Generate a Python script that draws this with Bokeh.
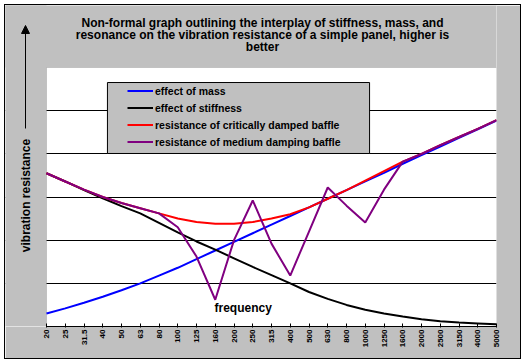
from math import pi
from bokeh.plotting import figure
from bokeh.models import (Range1d, FixedTicker, Legend, LegendItem, Label,
                          BoxAnnotation, Arrow, NormalHead)
from bokeh.embed import file_html
from bokeh.resources import INLINE

# ---- data ----
freq_labels = ["20", "25", "31.5", "40", "50", "63", "80", "100", "125", "160",
               "200", "250", "315", "400", "500", "630", "800", "1000", "1250",
               "1600", "2000", "2500", "3150", "4000", "5000"]
mass = [0.30, 0.42, 0.55, 0.69, 0.84, 1.00, 1.18, 1.36, 1.56, 1.76, 1.96, 2.16,
        2.36, 2.56, 2.76, 2.96, 3.16, 3.36, 3.56, 3.77, 3.97, 4.17, 4.37, 4.57, 4.77]
stiffness = [3.55, 3.36, 3.16, 2.97, 2.79, 2.62, 2.40, 2.18, 1.97, 1.78, 1.58, 1.38,
             1.19, 1.00, 0.80, 0.64, 0.50, 0.39, 0.30, 0.23, 0.17, 0.12, 0.09, 0.07, 0.05]
critically_damped = [3.55, 3.36, 3.17, 3.00, 2.86, 2.74, 2.62, 2.50, 2.42, 2.38, 2.38,
                     2.42, 2.50, 2.60, 2.76, 2.96, 3.16, 3.38, 3.60, 3.82, 4.00, 4.20,
                     4.39, 4.58, 4.78]
medium_damping = [3.55, 3.36, 3.17, 3.00, 2.86, 2.74, 2.62, 2.30, 1.62, 0.62, 2.00,
                  2.92, 1.92, 1.18, 2.20, 3.22, 2.80, 2.41, 3.17, 3.82, 4.00, 4.20,
                  4.39, 4.58, 4.78]
series_names = ["effect of mass", "effect of stiffness",
                "resistance of critically damped baffle",
                "resistance of medium damping baffle"]
series_colors = ["#0000ff", "#000000", "#ff0000", "#800080"]
title_lines = ["Non-formal graph outlining the interplay of stiffness, mass, and",
               "resonance on the vibration resistance of a simple panel, higher is",
               "better"]
grid_values = [1, 2, 3, 4, 5]

idx = list(range(len(freq_labels)))
n_last = len(freq_labels) - 1
Y_TOP = 6
FONT = "Liberation Sans"
GRAY = "#c0c0c0"

# plot-area scale: 18.75 px per category, 259/6 px per value unit;
# the frame is extended left/up so captions and arrow live inside it
PX_X = 18.75
PX_Y = 259 / 6
x_lo = -41 / PX_X
y_hi = 321 / PX_Y

p = figure(frame_width=491, frame_height=321, output_backend="svg",
           toolbar_location=None, x_range=Range1d(x_lo, n_last),
           y_range=Range1d(0, y_hi), y_axis_location=None, title=None,
           min_border_left=0, min_border_right=24, min_border_top=0,
           min_border_bottom=32)
p.styles = {"margin-left": "5px", "margin-top": "5px",
            "outline": "1px solid black"}
p.border_fill_color = GRAY
p.background_fill_color = "white"
p.outline_line_color = None

p.xgrid.visible = False
p.ygrid.ticker = FixedTicker(ticks=grid_values)
p.ygrid.grid_line_color = "black"
p.ygrid.grid_line_width = 1

# gray margins inside the extended frame (drawn over the grid ends)
p.add_layout(BoxAnnotation(left=x_lo - 1, right=0, bottom=0, top=y_hi + 1,
                           fill_color=GRAY, fill_alpha=1.0, line_color=None,
                           level="underlay"))
p.add_layout(BoxAnnotation(left=x_lo - 1, right=n_last + 3, bottom=Y_TOP,
                           top=y_hi + 1, fill_color=GRAY, fill_alpha=1.0,
                           line_color=None, level="underlay"))
# plot-area border
p.add_layout(BoxAnnotation(left=0, right=n_last, bottom=0, top=Y_TOP,
                           fill_alpha=0.0, line_color="#808080", line_width=1,
                           level="underlay"))

ax = p.xaxis[0]
ax.bounds = (0, n_last)
ax.ticker = FixedTicker(ticks=idx)
ax.major_label_overrides = {i: s for i, s in enumerate(freq_labels)}
ax.major_label_orientation = pi / 2
ax.major_label_text_font = FONT
ax.major_label_text_font_style = "bold"
ax.major_label_text_font_size = "8px"
ax.major_label_text_color = "black"
ax.major_label_standoff = 2
ax.major_tick_in = 3
ax.major_tick_out = 1
ax.minor_tick_line_color = None
ax.axis_line_color = "black"
ax.major_tick_line_color = "black"

series = [mass, stiffness, critically_damped, medium_damping]
renderers = []
for vals, col in zip(series, series_colors):
    r = p.line(idx, vals, line_color=col, line_width=2)
    renderers.append(r)

# legend box (background + border)
p.add_layout(BoxAnnotation(left=3.25, right=17.23, top=5.652, bottom=4.008,
                           fill_color=GRAY, fill_alpha=1.0,
                           line_color="black", line_width=1, line_alpha=1.0))

legend = Legend(items=[LegendItem(label=n, renderers=[r])
                       for n, r in zip(series_names, renderers)],
                location=(122, 176), padding=0, margin=0, spacing=0,
                glyph_width=26, glyph_height=17, label_height=17,
                label_standoff=2, border_line_color=None,
                background_fill_alpha=0.0,
                label_text_font=FONT, label_text_font_style="bold",
                label_text_font_size="10.5px", label_text_color="black")
p.add_layout(legend, "center")

# title lines
for t, yy in zip(title_lines, [7.026, 6.748, 6.486]):
    p.add_layout(Label(x=11.52, y=yy, text=t, text_align="center",
                       text_baseline="middle", text_font=FONT,
                       text_font_style="bold", text_font_size="12px",
                       text_color="black"))

# vertical caption with arrow
p.add_layout(Label(x=-1.12, y=3.035, text="vibration resistance", angle=pi / 2,
                   text_align="center", text_baseline="middle",
                   text_font=FONT, text_font_style="bold",
                   text_font_size="12px", text_color="black"))
p.add_layout(Arrow(end=NormalHead(size=8, fill_color="black", line_color="black"),
                   x_start=-1.12, y_start=4.587, x_end=-1.12, y_end=6.973,
                   line_color="black", line_width=1))

p.add_layout(Label(x=8.96, y=0.417, text="frequency",
                   text_align="left", text_baseline="middle",
                   text_font=FONT, text_font_style="bold",
                   text_font_size="12px", text_color="black"))

open("out.html", "w").write(file_html(p, INLINE))
